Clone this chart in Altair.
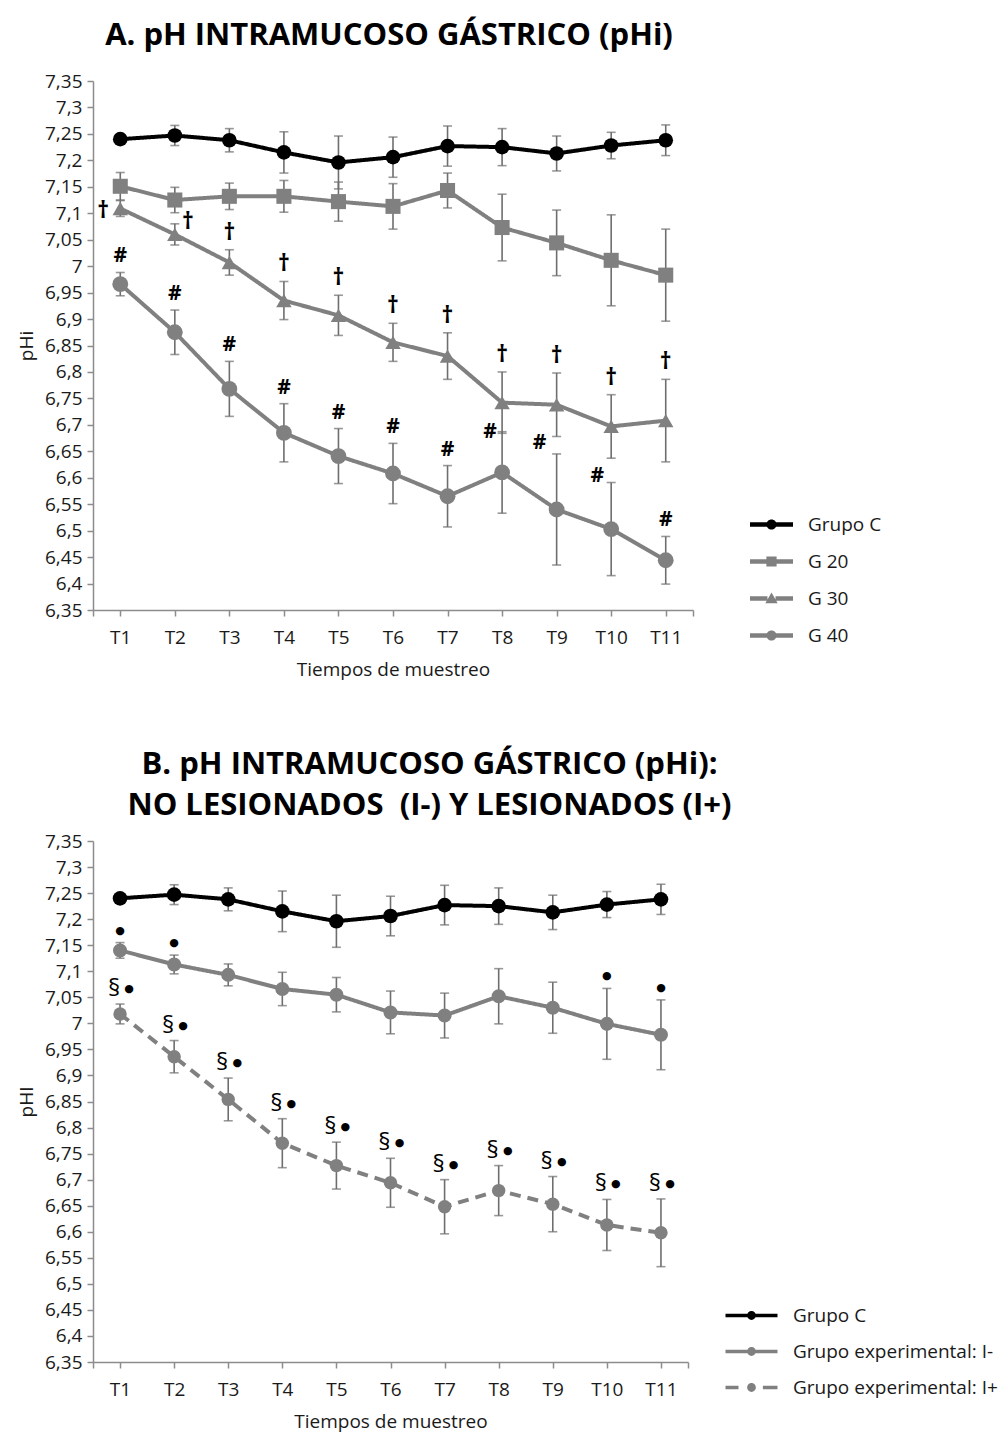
import json
import altair as alt
import pandas as pd

# ---------------------------------------------------------------------------
# Datos: media y desviación de pHi por tiempo de muestreo
# ---------------------------------------------------------------------------
tiempos = ["T1", "T2", "T3", "T4", "T5", "T6", "T7", "T8", "T9", "T10", "T11"]

# Panel A
series_a = ["Grupo C", "G 20", "G 30", "G 40"]
grupo_c_media = [7.240, 7.247, 7.238, 7.215, 7.196, 7.206, 7.227, 7.225, 7.213, 7.228, 7.238]
grupo_c_de = [0.004, 0.019, 0.022, 0.039, 0.050, 0.038, 0.038, 0.035, 0.033, 0.025, 0.029]
g20_media = [7.151, 7.125, 7.132, 7.132, 7.122, 7.113, 7.143, 7.073, 7.044, 7.011, 6.983]
g20_de = [0.026, 0.024, 0.025, 0.030, 0.037, 0.043, 0.033, 0.063, 0.062, 0.086, 0.087]
g30_media = [7.109, 7.060, 7.007, 6.935, 6.907, 6.856, 6.830, 6.742, 6.738, 6.697, 6.708]
g30_de = [0.015, 0.020, 0.024, 0.036, 0.038, 0.036, 0.044, 0.058, 0.060, 0.060, 0.078]
g40_media = [6.966, 6.875, 6.768, 6.685, 6.641, 6.608, 6.565, 6.610, 6.540, 6.503, 6.444]
g40_de = [0.022, 0.042, 0.052, 0.055, 0.052, 0.057, 0.058, 0.077, 0.105, 0.088, 0.045]

# Panel B
series_b = ["Grupo C", "Grupo experimental: I-", "Grupo experimental: I+"]
i_menos_media = [7.140, 7.113, 7.093, 7.066, 7.055, 7.021, 7.015, 7.052, 7.030, 6.999, 6.978]
i_menos_de = [0.015, 0.018, 0.021, 0.032, 0.033, 0.041, 0.043, 0.053, 0.049, 0.068, 0.067]
i_mas_media = [7.018, 6.936, 6.854, 6.770, 6.727, 6.694, 6.648, 6.679, 6.653, 6.613, 6.598]
i_mas_de = [0.019, 0.031, 0.041, 0.047, 0.045, 0.047, 0.052, 0.048, 0.053, 0.049, 0.065]

# Significación
daga_g30 = tiempos                      # † en G 30
almohadilla_g40 = tiempos               # # en G 40
punto_i_menos = ["T1", "T2", "T10", "T11"]   # • sobre I-
seccion_i_mas = tiempos                 # § • sobre I+

valores_y = [6.35, 6.40, 6.45, 6.50, 6.55, 6.60, 6.65, 6.70, 6.75, 6.80, 6.85,
             6.90, 6.95, 7.00, 7.05, 7.10, 7.15, 7.20, 7.25, 7.30, 7.35]

# ---------------------------------------------------------------------------
# Estilo
# ---------------------------------------------------------------------------
FUENTE = "Open Sans"
NEGRO = "#000000"
GRIS = "#808080"
GRIS_BARRA = "#6e6e6e"
GRIS_EJE = "#8c8c8c"
TEXTO = "#1a1a1a"


def tabla(nombres, medias, des):
    filas = []
    for nombre, media, de in zip(nombres, medias, des):
        for i, (t, m, d) in enumerate(zip(tiempos, media, de)):
            filas.append({"serie": nombre, "leyenda": nombre, "tiempo": t, "n": i + 1,
                          "media": m, "inf": m - d, "sup": m + d})
    return pd.DataFrame(filas)


marcas_x = [0.5] + [i + 1 for i in range(len(tiempos))] + [len(tiempos) + 0.5]
etiqueta_x = "datum.value % 1 == 0 ? " + json.dumps(tiempos) + "[datum.value - 1] : ''"


def eje_x():
    return alt.X(
        "n:Q",
        scale=alt.Scale(domain=[0.5, len(tiempos) + 0.5], nice=False, zero=False),
        axis=alt.Axis(values=marcas_x, labelExpr=etiqueta_x, title="Tiempos de muestreo",
                      tickSize=6, labelPadding=12, titlePadding=13),
    )


def eje_y(campo, titulo):
    return alt.Y(
        campo, type="quantitative",
        scale=alt.Scale(domain=[6.35, 7.35], nice=False, zero=False),
        axis=alt.Axis(values=valores_y, title=titulo, tickSize=6, labelPadding=5,
                      labelExpr="replace(format(datum.value, '.2~f'), '.', ',')",
                      titlePadding=8),
    )


def texto(datos, simbolo, ancla, dx, dy, tam, peso, fuente, tx, ty):
    return alt.Chart(datos).mark_text(
        text=simbolo, dx=dx, dy=dy, font=fuente, fontSize=tam, fontWeight=peso,
        color=NEGRO, align="center", baseline="middle",
    ).encode(x=tx, y=ty(ancla))


def panel(df, series, colores, formas, tamanos, guiones, rutas, leyenda, anotaciones,
          titulo, titulo_dx, titulo_offset, ancho, alto, titulo_y):
    x = eje_x()

    def y(campo):
        return eje_y(campo, titulo_y)

    color = alt.Color("serie:N", scale=alt.Scale(domain=series, range=colores), legend=None)
    lineas = alt.Chart(df).mark_line(strokeWidth=4).encode(
        x=x, y=y("media"), color=color,
        strokeDash=alt.StrokeDash("serie:N", scale=alt.Scale(domain=series, range=guiones),
                                  legend=None),
        detail="serie:N",
    )
    puntos = alt.Chart(df).mark_point(filled=True, opacity=1).encode(
        x=x, y=y("media"), color=color,
        shape=alt.Shape("serie:N", scale=alt.Scale(domain=series, range=formas), legend=None),
        size=alt.Size("serie:N", scale=alt.Scale(domain=series, range=tamanos), legend=None),
    )
    barras = alt.Chart(df).mark_rule(color=GRIS_BARRA, strokeWidth=1.6).encode(
        x=x, y=y("inf"), y2="sup")
    tope_inf = alt.Chart(df).mark_tick(orient="horizontal", color=GRIS_BARRA, thickness=1.6,
                                       size=9).encode(x=x, y=y("inf"))
    tope_sup = alt.Chart(df).mark_tick(orient="horizontal", color=GRIS_BARRA, thickness=1.6,
                                       size=9).encode(x=x, y=y("sup"))

    # capa invisible que sólo aporta la leyenda (línea + marcador)
    ley = alt.Legend(title=None, orient="none", legendX=leyenda["x"], legendY=leyenda["y"],
                     symbolSize=leyenda["size"], symbolStrokeWidth=0, symbolOpacity=1,
                     labelFont=FUENTE, labelFontSize=leyenda["font"], labelColor=TEXTO,
                     labelOffset=leyenda["offset"], rowPadding=leyenda["row"],
                     labelLimit=400)
    portador = alt.Chart(df).mark_point(filled=True, opacity=0).encode(
        x=x, y=y("media"),
        color=alt.Color("leyenda:N", scale=alt.Scale(domain=series, range=colores), legend=ley),
        shape=alt.Shape("leyenda:N", scale=alt.Scale(domain=series, range=rutas), legend=ley),
    )

    capas = [lineas, barras, tope_inf, tope_sup, puntos, portador]
    for datos, simbolo, ancla, dx, dy, tam, peso, fuente in anotaciones:
        capas.append(texto(datos, simbolo, ancla, dx, dy, tam, peso, fuente, x, y))

    return alt.layer(*capas).resolve_scale(
        color="independent", shape="independent"
    ).properties(
        width=ancho, height=alto,
        title=alt.TitleParams(text=titulo, font=FUENTE, fontSize=31, fontWeight="bold",
                              color=NEGRO, anchor="middle", dx=titulo_dx, lineHeight=41,
                              offset=titulo_offset),
    )


# --- rutas de los símbolos de la leyenda (barra + marcador, en unidades del símbolo)
def barra(a, b, g):
    return f"M{a},{-g} H{b} V{g} H{a} Z "


def circulo(r):
    return f"M{r},0 A{r},{r} 0 1 1 {-r},0 A{r},{r} 0 1 1 {r},0 Z"


linea_a = barra(-1.6, -0.3, 0.17) + barra(0.3, 1.6, 0.17)
rutas_a = [
    linea_a + circulo(0.38),
    linea_a + "M-0.38,-0.38 H0.38 V0.38 H-0.38 Z",
    linea_a + "M0,-0.44 L0.46,0.36 L-0.46,0.36 Z",
    linea_a + circulo(0.38),
]
linea_b = barra(-1.6, -0.22, 0.11) + barra(0.22, 1.6, 0.11)
rutas_b = [
    linea_b + circulo(0.27),
    linea_b + circulo(0.27),
    barra(-1.6, -0.8, 0.11) + barra(0.7, 1.6, 0.11) + circulo(0.27),
]

# ---------------------------------------------------------------------------
# Panel A
# ---------------------------------------------------------------------------
df_a = tabla(series_a, [grupo_c_media, g20_media, g30_media, g40_media],
             [grupo_c_de, g20_de, g30_de, g40_de])
g30 = df_a[df_a.serie == "G 30"]
g40 = df_a[df_a.serie == "G 40"]

anot_a = [
    (g30[g30.tiempo.isin(["T1"]) & g30.tiempo.isin(daga_g30)], "†", "media", -17, 3, 23, "bold", FUENTE),
    (g30[g30.tiempo.isin(["T2"]) & g30.tiempo.isin(daga_g30)], "†", "media", 13, -12, 23, "bold", FUENTE),
    (g30[~g30.tiempo.isin(["T1", "T2"]) & g30.tiempo.isin(daga_g30)], "†", "sup", 0, -17, 23, "bold", FUENTE),
    (g40[g40.tiempo.isin(["T8"])], "#", "sup", -12, 0, 21, "bold", FUENTE),
    (g40[g40.tiempo.isin(["T9"])], "#", "sup", -17, -11, 21, "bold", FUENTE),
    (g40[g40.tiempo.isin(["T10"])], "#", "sup", -14, -7, 21, "bold", FUENTE),
    (g40[~g40.tiempo.isin(["T8", "T9", "T10"]) & g40.tiempo.isin(almohadilla_g40)],
     "#", "sup", 0, -16, 21, "bold", FUENTE),
]

panel_a = panel(
    df_a, series_a, [NEGRO, GRIS, GRIS, GRIS],
    ["circle", "square", "triangle-up", "circle"], [215, 250, 300, 215],
    [[1, 0], [1, 0], [1, 0], [1, 0]], rutas_a,
    {"x": 665, "y": 430, "size": 723, "font": 19, "offset": 23, "row": 13},
    anot_a, "A. pH INTRAMUCOSO GÁSTRICO (pHi)", -4, 20, 600, 529, "pHi",
)

# ---------------------------------------------------------------------------
# Panel B
# ---------------------------------------------------------------------------
df_b = tabla(series_b, [grupo_c_media, i_menos_media, i_mas_media],
             [grupo_c_de, i_menos_de, i_mas_de])
im = df_b[df_b.serie == "Grupo experimental: I-"]
ip = df_b[df_b.serie == "Grupo experimental: I+"]

anot_b = [
    (im[im.tiempo.isin(punto_i_menos)], "●", "sup", 0, -12, 11, "normal", "DejaVu Sans"),
    (ip[ip.tiempo.isin(seccion_i_mas)], "§", "sup", -6, -15, 24, "normal", FUENTE),
    (ip[ip.tiempo.isin(seccion_i_mas)], "●", "sup", 9, -15, 11, "normal", "DejaVu Sans"),
]

panel_b = panel(
    df_b, series_b, [NEGRO, GRIS, GRIS],
    ["circle", "circle", "circle"], [215, 180, 180],
    [[1, 0], [1, 0], [11, 7]], rutas_b,
    {"x": 642, "y": 458, "size": 1056, "font": 19, "offset": 25, "row": 9},
    anot_b,
    ["B. pH INTRAMUCOSO GÁSTRICO (pHi):", "NO LESIONADOS\u00a0 (I-) Y LESIONADOS (I+)"],
    39, 10, 595, 521, "pHI",
)

chart = alt.vconcat(panel_a, panel_b, spacing=70).resolve_scale(
    color="independent", shape="independent", strokeDash="independent", size="independent"
).properties(
    padding={"left": 17, "top": 20, "right": 2, "bottom": 2},
    background="white",
).configure_view(stroke=None).configure_axis(
    grid=False, domainColor=GRIS_EJE, tickColor=GRIS_EJE, domainWidth=1.5, tickWidth=1.5,
    labelFont=FUENTE, labelFontSize=19, labelColor=TEXTO,
    titleFont=FUENTE, titleFontSize=19, titleFontWeight="normal", titleColor=TEXTO,
)

chart.save("out.html", embed_options={"renderer": "svg", "actions": False})
